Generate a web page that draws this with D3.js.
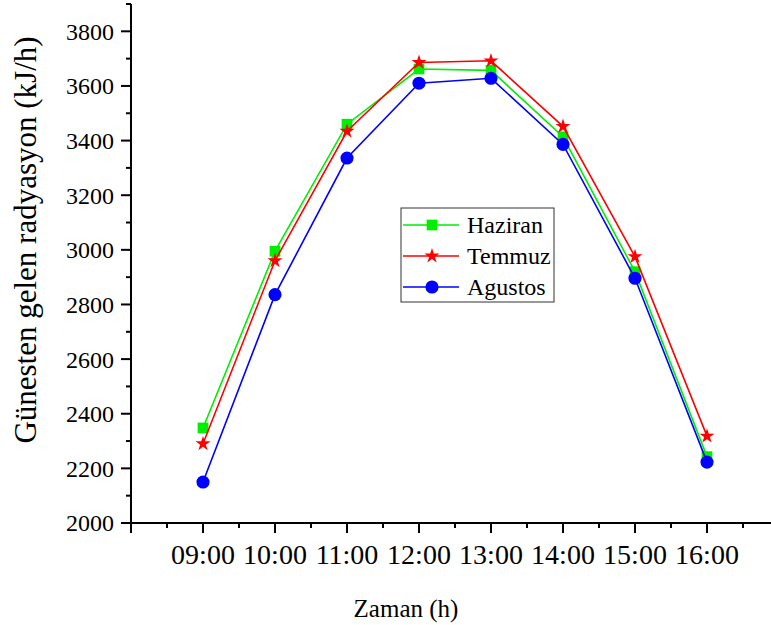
<!DOCTYPE html>
<html>
<head>
<meta charset="utf-8">
<script src="https://cdn.jsdelivr.net/npm/d3@7"></script>
<style>
  body { margin: 0; background: #fff; }
</style>
</head>
<body>
<svg id="chart" width="771" height="625"></svg>
<script>
// hours on the x axis
const hours = [9, 10, 11, 12, 13, 14, 15, 16];
const hourLabels = ["09:00", "10:00", "11:00", "12:00", "13:00", "14:00", "15:00", "16:00"];

// radiation values (kJ/h)
const haziran = [2348, 2995, 3460, 3662, 3657, 3414, 2920, 2243];
const temmuz  = [2290, 2960, 3434, 3686, 3692, 3452, 2975, 2318];
const agustos = [2150, 2836, 3336, 3610, 3628, 3386, 2896, 2223];

const yTicks = [2000, 2200, 2400, 2600, 2800, 3000, 3200, 3400, 3600, 3800];

const series = [
    { name: "Haziran", values: haziran, color: "#00ee00", symbol: d3.symbolSquare, size: 115 },
    { name: "Temmuz",  values: temmuz,  color: "#ff0000", symbol: d3.symbolStar,   size: 70 },
    { name: "Agustos", values: agustos, color: "#0000ff", symbol: d3.symbolCircle, size: 135 }
];

const serif = "'Liberation Serif', 'Times New Roman', serif";
const svg = d3.select("#chart");

// 200 kJ/h is ~54.7px, axis starts at 08:00
let x = d3.scaleLinear().domain([8, 17]).range([131, 779]);
let y = d3.scaleLinear().domain([2000, 3900]).range([523, 4]);

// y axis
const yAxis = svg.append("g");
yAxis.append("line")
    .attr("x1", x(8)).attr("x2", x(8))
    .attr("y1", y(2000)).attr("y2", y(3900))
    .attr("stroke", "#000").attr("stroke-width", 2);

d3.range(2000, 3901, 100).forEach((v) => {
    const major = v % 200 === 0;
    yAxis.append("line")
        .attr("x1", x(8)).attr("x2", x(8) - (major ? 10 : 5))
        .attr("y1", y(v)).attr("y2", y(v))
        .attr("stroke", "#000").attr("stroke-width", 2);
});

yAxis.selectAll("text.ytick").data(yTicks).enter()
    .append("text")
    .attr("class", "ytick")
    .attr("x", 114)
    .attr("y", (d) => y(d))
    .attr("dy", "0.35em")
    .attr("text-anchor", "end")
    .style("font-family", serif)
    .style("font-size", "24px")
    .text((d) => d);

// x axis
const xAxis = svg.append("g");
xAxis.append("line")
    .attr("x1", x(8) - 1).attr("x2", 771)
    .attr("y1", y(2000)).attr("y2", y(2000))
    .attr("stroke", "#000").attr("stroke-width", 2);

d3.range(8, 17.01, 0.5).forEach((h) => {
    const major = h % 1 === 0;
    xAxis.append("line")
        .attr("x1", x(h)).attr("x2", x(h))
        .attr("y1", y(2000)).attr("y2", y(2000) + (major ? 10 : 5))
        .attr("stroke", "#000").attr("stroke-width", 2);
});

xAxis.selectAll("text.xtick").data(hours).enter()
    .append("text")
    .attr("class", "xtick")
    .attr("x", (d) => x(d))
    .attr("y", 564)
    .attr("text-anchor", "middle")
    .style("font-family", serif)
    .style("font-size", "28px")
    .text((d, i) => hourLabels[i]);

// axis titles
svg.append("text")
    .attr("x", 406).attr("y", 617)
    .attr("text-anchor", "middle")
    .style("font-family", serif)
    .style("font-size", "25px")
    .text("Zaman (h)");

svg.append("text")
    .attr("transform", "translate(36,240) rotate(-90)")
    .attr("text-anchor", "middle")
    .style("font-family", serif)
    .style("font-size", "31px")
    .text("Günesten gelen radyasyon (kJ/h)");

// lines and markers
let line = d3.line().x((d, i) => x(hours[i])).y((d) => y(d));

series.forEach((s) => {
    const g = svg.append("g");
    g.append("path")
        .attr("d", line(s.values))
        .attr("fill", "none")
        .attr("stroke", s.color)
        .attr("stroke-width", 1.6);
    g.selectAll("path.mark").data(s.values).enter()
        .append("path")
        .attr("class", "mark")
        .attr("transform", (d, i) => `translate(${x(hours[i])},${y(d)})`)
        .attr("d", d3.symbol().type(s.symbol).size(s.size))
        .attr("fill", s.color);
});

// legend
const legend = svg.append("g").attr("transform", "translate(401,208)");
legend.append("rect")
    .attr("width", 153).attr("height", 94)
    .attr("fill", "#fff")
    .attr("stroke", "#333").attr("stroke-width", 1);

series.forEach((s, i) => {
    const ly = 17 + i * 31;
    legend.append("line")
        .attr("x1", 2).attr("x2", 58)
        .attr("y1", ly).attr("y2", ly)
        .attr("stroke", s.color).attr("stroke-width", 1.6);
    legend.append("path")
        .attr("transform", `translate(31,${ly})`)
        .attr("d", d3.symbol().type(s.symbol).size(s.size))
        .attr("fill", s.color);
    legend.append("text")
        .attr("x", 66).attr("y", ly)
        .attr("dy", "0.35em")
        .style("font-family", serif)
        .style("font-size", "24px")
        .text(s.name);
});
</script>
</body>
</html>
